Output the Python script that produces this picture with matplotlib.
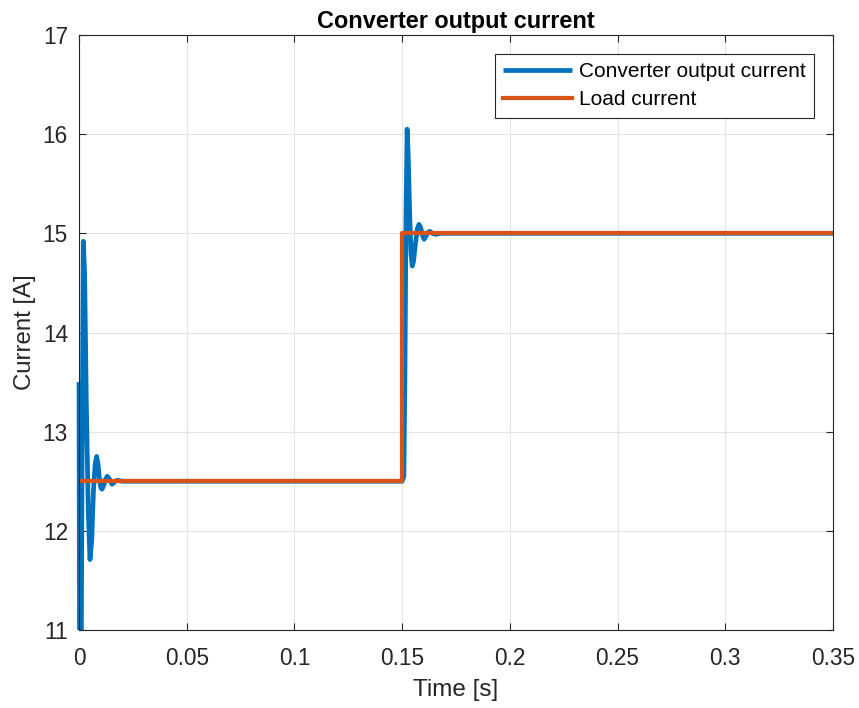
import matplotlib
matplotlib.use("Agg")
import matplotlib.pyplot as plt
from matplotlib.transforms import Bbox, TransformedBbox

# converter output current (blue)
conv_t = [0.0, 0.0001, 0.0003, 0.0009, 0.0014, 0.0020, 0.0026, 0.0034, 0.0043, 0.0051,
          0.0059, 0.0067, 0.0075, 0.0082, 0.0089, 0.0096, 0.0102, 0.0107, 0.0115,
          0.0123, 0.0131, 0.0139, 0.0147, 0.0153, 0.0160, 0.0167, 0.0178, 0.0200,
          0.1500, 0.1508, 0.1513, 0.1518, 0.1523, 0.1528, 0.1535, 0.1541, 0.1547,
          0.1553, 0.1562, 0.1571, 0.1578, 0.1586, 0.1594, 0.1602, 0.1610, 0.1620,
          0.1629, 0.1640, 0.1655, 0.1680, 0.3500]
conv_i = [13.5, 12.5, 10.4, 10.0, 12.6, 14.92, 14.6, 13.3, 12.2, 11.71,
          11.9, 12.4, 12.68, 12.75, 12.66, 12.5, 12.43, 12.42, 12.46,
          12.52, 12.55, 12.53, 12.5, 12.47, 12.48, 12.5, 12.51, 12.5,
          12.5, 12.55, 13.6, 15.2, 16.05, 15.8, 15.2, 14.8, 14.67,
          14.72, 14.9, 15.05, 15.09, 15.06, 14.98, 14.94, 14.97, 15.01,
          15.02, 15.0, 14.99, 15.0, 15.0]

# load current (orange)
load_t = [0.0, 0.15, 0.15, 0.35]
load_i = [12.5, 12.5, 15.0, 15.0]

x_ticks = [0, 0.05, 0.1, 0.15, 0.2, 0.25, 0.3, 0.35]
x_labels = ["0", "0.05", "0.1", "0.15", "0.2", "0.25", "0.3", "0.35"]
y_ticks = [11, 12, 13, 14, 15, 16, 17]

plt.rcParams["font.family"] = ["Liberation Sans", "DejaVu Sans"]

W, H = 859, 708
x0, x1, y0, y1 = 79 / W, 833 / W, 1 - 630 / H, 1 - 35 / H

fig = plt.figure(figsize=(W / 100, H / 100), dpi=100)
ax = fig.add_axes([x0, y0, x1 - x0, y1 - y0])

conv_line, = ax.plot(conv_t, conv_i, color="#0072BD", lw=3.4, label="Converter output current",
                     solid_joinstyle="round", solid_capstyle="butt")
ax.plot(load_t, load_i, color="#D95319", lw=3.0, label="Load current")

# like MATLAB, let the thick line spill a little past the left axis edge
conv_line.set_clip_box(TransformedBbox(Bbox([[x0 - 3.5 / W, y0], [x1, y1]]), fig.transFigure))

ax.set_xlim(0, 0.35)
ax.set_ylim(11, 17)
ax.set_xticks(x_ticks)
ax.set_xticklabels(x_labels)
ax.set_yticks(y_ticks)
ax.tick_params(direction="in", top=True, right=True, labelsize=16.3, colors="#262626",
               length=5, width=0.8)
ax.tick_params(axis="x", pad=12)
ax.tick_params(axis="y", pad=8)
ax.grid(True, color="#e3e3e3", lw=0.8)
ax.set_axisbelow(True)
for s in ax.spines.values():
    s.set_color("#262626")
    s.set_linewidth(0.8)

ax.set_xlabel("Time [s]", fontsize=17.5, color="#262626", labelpad=7)
ax.set_ylabel("Current [A]", fontsize=17.3, color="#262626", labelpad=5)
ax.set_title("Converter output current", fontsize=16.9, fontweight="bold", pad=5)

leg = ax.legend(loc="upper right", fontsize=15, fancybox=False, framealpha=1,
                edgecolor="#262626", handlelength=3.3, borderaxespad=0.9,
                borderpad=0.4, labelspacing=0.45, handletextpad=0.35)
leg.get_frame().set_linewidth(0.8)

fig.savefig("out.png", dpi=100)
